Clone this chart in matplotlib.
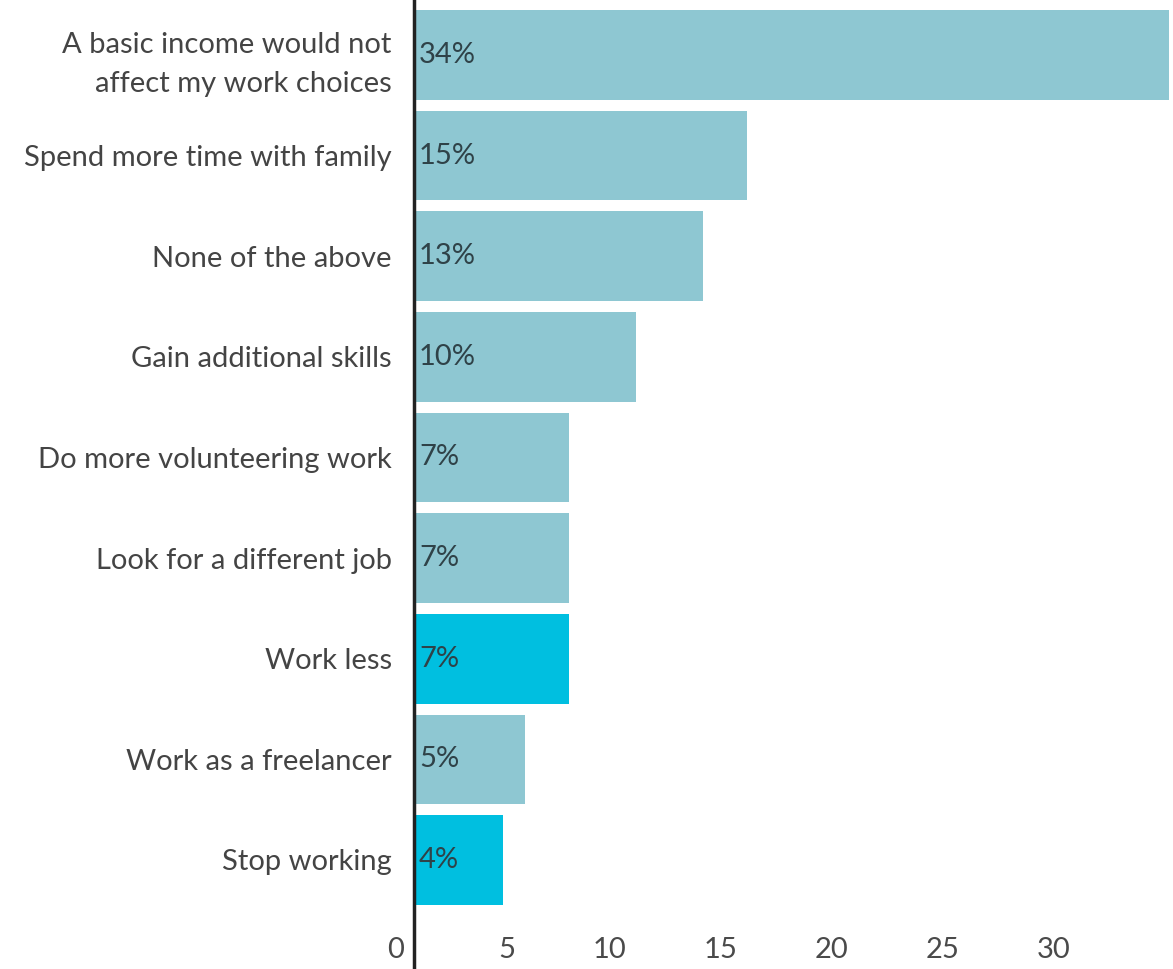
import matplotlib
matplotlib.use("Agg")
import matplotlib.pyplot as plt
from matplotlib.transforms import ScaledTranslation

categories = [
    "A basic income would not\naffect my work choices",
    "Spend more time with family",
    "None of the above",
    "Gain additional skills",
    "Do more volunteering work",
    "Look for a different job",
    "Work less",
    "Work as a freelancer",
    "Stop working",
]
values = [34, 15, 13, 10, 7, 7, 7, 5, 4]
labels = ["34%", "15%", "13%", "10%", "7%", "7%", "7%", "5%", "4%"]
highlight = [False, False, False, False, False, False, True, False, True]
xticks = [0, 5, 10, 15, 20, 25, 30]

plt.rcParams['font.family'] = ['Lato', 'DejaVu Sans']
DPI = 100
W, H = 1173, 969
FS = 21
fig = plt.figure(figsize=(W / DPI, H / DPI), dpi=DPI)
ax = fig.add_axes([414 / W, 0, (1170 - 414) / W, 1])

light = "#8ec7d2"
bright = "#00bfe0"
colors = [bright if h else light for h in highlight]
ys = list(range(len(categories)))
ax.barh(ys, values, height=0.89, color=colors, zorder=2)

pitch = 100.6
top_px = 55 / pitch
bot_px = (969 - 860) / pitch
ax.set_ylim(len(categories) - 1 + bot_px, -top_px)
ax.set_xlim(0, 34.05)

for y, v, lab in zip(ys, values, labels):
    ax.annotate(lab, xy=(0, y), xytext=(5, 0), textcoords="offset pixels",
                ha="left", va="center", fontsize=FS, color="#2f4248", zorder=3)

ax.set_yticks(ys)
ax.set_yticklabels(categories, fontsize=FS, color="#444444", linespacing=1.65)
ax.tick_params(axis="y", length=0, pad=16)

ax.set_xticks(xticks)
ax.set_xticklabels([str(t) for t in xticks], fontsize=FS, color="#4a4a4a")
ax.tick_params(axis="x", length=0, pad=-23)
off = ScaledTranslation(-10 / DPI, 0, fig.dpi_scale_trans)
for lbl in ax.get_xticklabels():
    lbl.set_horizontalalignment("right")
    lbl.set_transform(lbl.get_transform() + off)

for s in ["top", "right", "bottom"]:
    ax.spines[s].set_visible(False)
ax.spines["left"].set_linewidth(2.5)
ax.spines["left"].set_color("#222222")
ax.spines["left"].set_zorder(4)
ax.set_facecolor("white")

fig.savefig("out.png", dpi=DPI)
